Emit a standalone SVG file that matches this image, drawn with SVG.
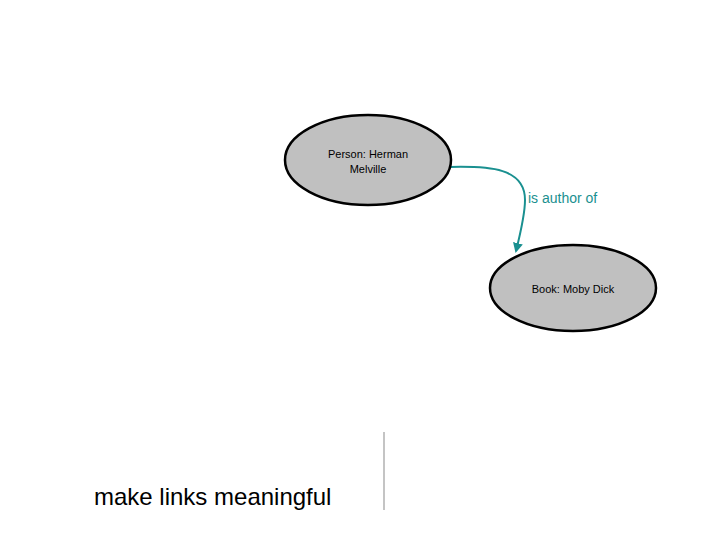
<svg xmlns="http://www.w3.org/2000/svg" width="720" height="540" viewBox="0 0 720 540">
<style>
.node{fill:#c0c0c0;stroke:#000;stroke-width:2.5}
.lbl{font-family:"Liberation Sans",Arial,sans-serif;font-size:11px;fill:#000;text-anchor:middle}
.edge{fill:none;stroke:#1a9090;stroke-width:2}
</style>
<defs>
<marker id="ah" viewBox="0 0 10 10" refX="8" refY="5" markerWidth="5" markerHeight="5" orient="auto-start-reverse">
<path d="M0,0 L10,5 L0,10 z" fill="#1a9090"/>
</marker>
</defs>
<rect width="720" height="540" fill="#fff"/>
<g id="edges">
<path class="edge" d="M450,167 C490,166 525,168 525,200 C525,215 520,235 516,251" marker-end="url(#ah)"/>
<text x="528" y="203" font-family="Liberation Sans,Arial,sans-serif" font-size="14" fill="#1a9090">is author of</text>
</g>
<g id="person">
<ellipse class="node" cx="368" cy="160" rx="83" ry="45"/>
<text class="lbl" x="368" y="158">Person: Herman</text>
<text class="lbl" x="368" y="173">Melville</text>
</g>
<g id="book">
<ellipse class="node" cx="573" cy="288" rx="83" ry="43"/>
<text class="lbl" x="573" y="293">Book: Moby Dick</text>
</g>
<g id="caption">
<text x="94" y="505" font-family="Liberation Sans,Arial,sans-serif" font-size="24" fill="#000">make links meaningful</text>
<line x1="384" y1="432" x2="384" y2="510" stroke="#b0b0b0" stroke-width="1.5"/>
</g>
</svg>
